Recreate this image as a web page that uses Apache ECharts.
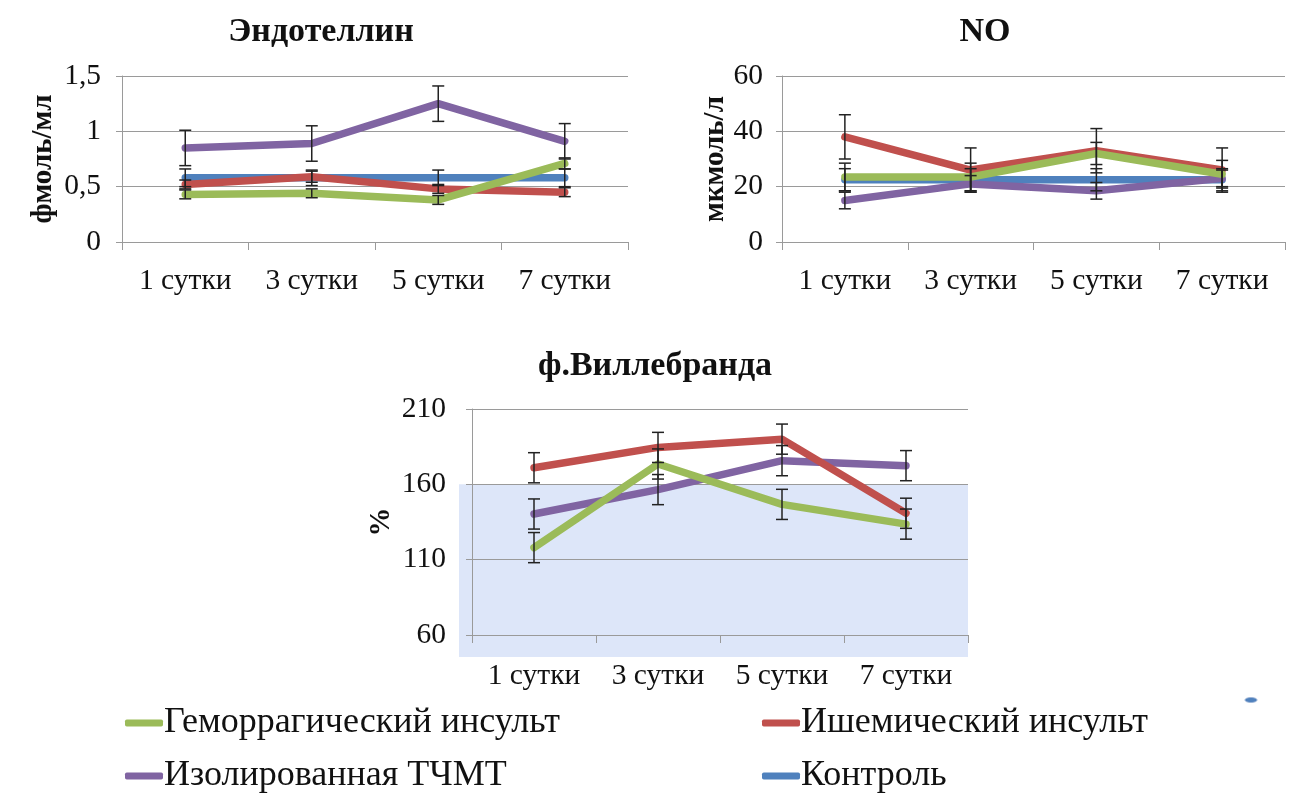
<!DOCTYPE html>
<html>
<head>
<meta charset="utf-8">
<script src="https://cdn.jsdelivr.net/npm/echarts@6/dist/echarts.min.js"></script>
<style>
  html, body { margin: 0; padding: 0; background: #fff; }
  #chart { width: 1289px; height: 801px; }
</style>
</head>
<body>
<div id="chart"></div>
<script>
// Categories (days after onset)
const days = ['1 сутки', '3 сутки', '5 сутки', '7 сутки'];

// Group names
const nameHem = 'Геморрагический инсульт';
const nameIsch = 'Ишемический инсульт';
const nameTbi = 'Изолированная ТЧМТ';
const nameCtrl = 'Контроль';

// Endothelin, fmol/ml
const endoHem = [0.43, 0.44, 0.38, 0.71];
const endoIsch = [0.52, 0.59, 0.48, 0.45];
const endoTbi = [0.85, 0.89, 1.25, 0.91];
const endoCtrl = [0.58, 0.58, 0.58, 0.58];
const endoHemErr = [0.04, 0.04, 0.04, 0.05];
const endoIschErr = [0.04, 0.05, 0.04, 0.04];
const endoTbiErr = [0.16, 0.16, 0.16, 0.16];
const endoCtrlErr = [0.08, 0.07, 0.07, 0.08];

// NO, µmol/l
const noHem = [23.5, 23.5, 32, 24.5];
const noIsch = [38, 26, 33, 26];
const noTbi = [15, 21, 18.5, 23];
const noCtrl = [22.5, 22.5, 22.5, 22.5];
const noHemErr = [5, 5, 4, 5];
const noIschErr = [8, 8, 8, 8];
const noTbiErr = [3, 3, 3, 3];
const noCtrlErr = [4, 4, 4, 4];

// von Willebrand factor, %
const vwfHem = [118, 173.5, 146.7, 133.6];
const vwfIsch = [171, 184.5, 190, 140.8];
const vwfTbi = [140.3, 156.5, 175.7, 172.4];
const vwfHemErr = [10, 10, 10, 10];
const vwfIschErr = [10, 10, 10, 10];
const vwfTbiErr = [10, 10, 10, 10];
const vwfNormTop = 160;

// Axis ticks
const endoTicks = { min: 0, max: 1.5, interval: 0.5 };
const noTicks = { min: 0, max: 60, interval: 20 };
const vwfTicks = { min: 60, max: 210, interval: 50 };

const colHem = '#9bbb59';
const colIsch = '#c0504d';
const colTbi = '#8064a2';
const colCtrl = '#4f81bd';

const serif = '"Liberation Serif", "Times New Roman", serif';
const gridColor = '#9a9a9a';

const chart = echarts.init(document.getElementById('chart'), null, { renderer: 'canvas' });

function fmtComma(v) { return String(v).replace('.', ','); }

function xAxisFor(i) {
  return {
    type: 'category', gridIndex: i, data: days,
    axisLine: { lineStyle: { color: gridColor, width: 1 } },
    axisTick: { show: true, length: 8, lineStyle: { color: gridColor } },
    axisLabel: { color: '#111', fontFamily: serif, fontSize: 29.5, margin: i === 2 ? 26 : 24 }
  };
}
function yAxisFor(i, ticks, name, gap, labelMargin, fmt) {
  return {
    type: 'value', gridIndex: i, min: ticks.min, max: ticks.max, interval: ticks.interval,
    name: name, nameLocation: 'middle', nameRotate: 90, nameGap: gap,
    nameTextStyle: { fontFamily: serif, fontSize: 29, fontWeight: 'bold', color: '#111' },
    axisLine: { show: true, lineStyle: { color: gridColor } },
    axisTick: { show: true, length: 6, lineStyle: { color: gridColor } },
    splitLine: { lineStyle: { color: gridColor, width: 1 } },
    axisLabel: { color: '#111', fontFamily: serif, fontSize: 29.5, margin: labelMargin, formatter: fmt }
  };
}

function lineSeries(name, color, data, i, z) {
  return {
    type: 'line', name: name, data: data, xAxisIndex: i, yAxisIndex: i,
    symbol: 'none', z: z,
    lineStyle: { color: color, width: 7.5, cap: 'round', join: 'round' },
    itemStyle: { color: color }
  };
}

function errSeries(name, values, errs, i) {
  return {
    type: 'custom', name: name, xAxisIndex: i, yAxisIndex: i, z: 10,
    data: values.map((v, k) => [k, v, errs[k]]),
    renderItem: function (params, api) {
      const x = api.value(0), v = api.value(1), e = api.value(2);
      const top = api.coord([x, v + e]);
      const bot = api.coord([x, v - e]);
      const w = 6;
      const st = { stroke: '#222', lineWidth: 1.5 };
      return {
        type: 'group',
        children: [
          { type: 'line', shape: { x1: top[0], y1: top[1], x2: bot[0], y2: bot[1] }, style: st },
          { type: 'line', shape: { x1: top[0] - w, y1: top[1], x2: top[0] + w, y2: top[1] }, style: st },
          { type: 'line', shape: { x1: bot[0] - w, y1: bot[1], x2: bot[0] + w, y2: bot[1] }, style: st }
        ]
      };
    }
  };
}

function legendItem(name, left, top) {
  return {
    orient: 'horizontal', left: left, top: top, itemWidth: 38, itemHeight: 7,
    icon: 'roundRect', data: [name], padding: 0,
    textStyle: { fontFamily: serif, fontSize: 36, color: '#111', padding: [0, 0, 0, -4] }
  };
}

const option = {
  backgroundColor: '#ffffff',
  animation: false,
  title: [
    { text: 'Эндотеллин', left: 316, top: 10, textAlign: 'center',
      textStyle: { fontFamily: serif, fontSize: 34, fontWeight: 'bold', color: '#111' } },
    { text: 'NO', left: 980, top: 10, textAlign: 'center',
      textStyle: { fontFamily: serif, fontSize: 34, fontWeight: 'bold', color: '#111' } },
    { text: 'ф.Виллебранда', left: 650, top: 344, textAlign: 'center',
      textStyle: { fontFamily: serif, fontSize: 34, fontWeight: 'bold', color: '#111' } }
  ],
  legend: [
    legendItem(nameHem, 125, 705),
    legendItem(nameTbi, 125, 758),
    legendItem(nameIsch, 762, 705),
    legendItem(nameCtrl, 762, 758)
  ],
  grid: [
    { left: 122, top: 76, width: 506, height: 166 },
    { left: 782, top: 76, width: 503, height: 166 },
    { left: 472, top: 409, width: 496, height: 226 }
  ],
  xAxis: [xAxisFor(0), xAxisFor(1), xAxisFor(2)],
  yAxis: [
    yAxisFor(0, endoTicks, 'фмоль/мл', 64, 21, fmtComma),
    yAxisFor(1, noTicks, 'мкмоль/л', 46, 19, null),
    yAxisFor(2, vwfTicks, '%', 76, 26, null)
  ],
  series: [
    lineSeries(nameCtrl, colCtrl, endoCtrl, 0, 2),
    lineSeries(nameTbi, colTbi, endoTbi, 0, 3),
    lineSeries(nameIsch, colIsch, endoIsch, 0, 4),
    lineSeries(nameHem, colHem, endoHem, 0, 5),
    errSeries(nameCtrl, endoCtrl, endoCtrlErr, 0),
    errSeries(nameTbi, endoTbi, endoTbiErr, 0),
    errSeries(nameIsch, endoIsch, endoIschErr, 0),
    errSeries(nameHem, endoHem, endoHemErr, 0),

    lineSeries(nameCtrl, colCtrl, noCtrl, 1, 2),
    lineSeries(nameTbi, colTbi, noTbi, 1, 3),
    lineSeries(nameIsch, colIsch, noIsch, 1, 4),
    lineSeries(nameHem, colHem, noHem, 1, 5),
    errSeries(nameCtrl, noCtrl, noCtrlErr, 1),
    errSeries(nameTbi, noTbi, noTbiErr, 1),
    errSeries(nameIsch, noIsch, noIschErr, 1),
    errSeries(nameHem, noHem, noHemErr, 1),

    lineSeries(nameTbi, colTbi, vwfTbi, 2, 3),
    lineSeries(nameIsch, colIsch, vwfIsch, 2, 4),
    lineSeries(nameHem, colHem, vwfHem, 2, 5),
    errSeries(nameTbi, vwfTbi, vwfTbiErr, 2),
    errSeries(nameIsch, vwfIsch, vwfIschErr, 2),
    errSeries(nameHem, vwfHem, vwfHemErr, 2)
  ]
};

chart.setOption(option);

// Shaded reference band (values up to the upper norm) behind the vWF chart
const yTop = chart.convertToPixel({ yAxisIndex: 2 }, vwfNormTop);
const yMin = chart.convertToPixel({ yAxisIndex: 2 }, vwfTicks.min);
const xL = chart.convertToPixel({ xAxisIndex: 2 }, days[0]) - 75;
const xR = chart.convertToPixel({ xAxisIndex: 2 }, days[3]) + 62;
chart.setOption({
  graphic: [
    { type: 'rect', z: -10, zlevel: 0, silent: true,
      shape: { x: xL, y: yTop, width: xR - xL, height: yMin - yTop + 22 },
      style: { fill: '#dde6f9' } },
    { type: 'ellipse', silent: true, shape: { cx: 1251, cy: 700, rx: 6, ry: 2.5 },
      style: { fill: '#4f81bd', stroke: '#9fb6d8', lineWidth: 1 } }
  ]
});
</script>
</body>
</html>
